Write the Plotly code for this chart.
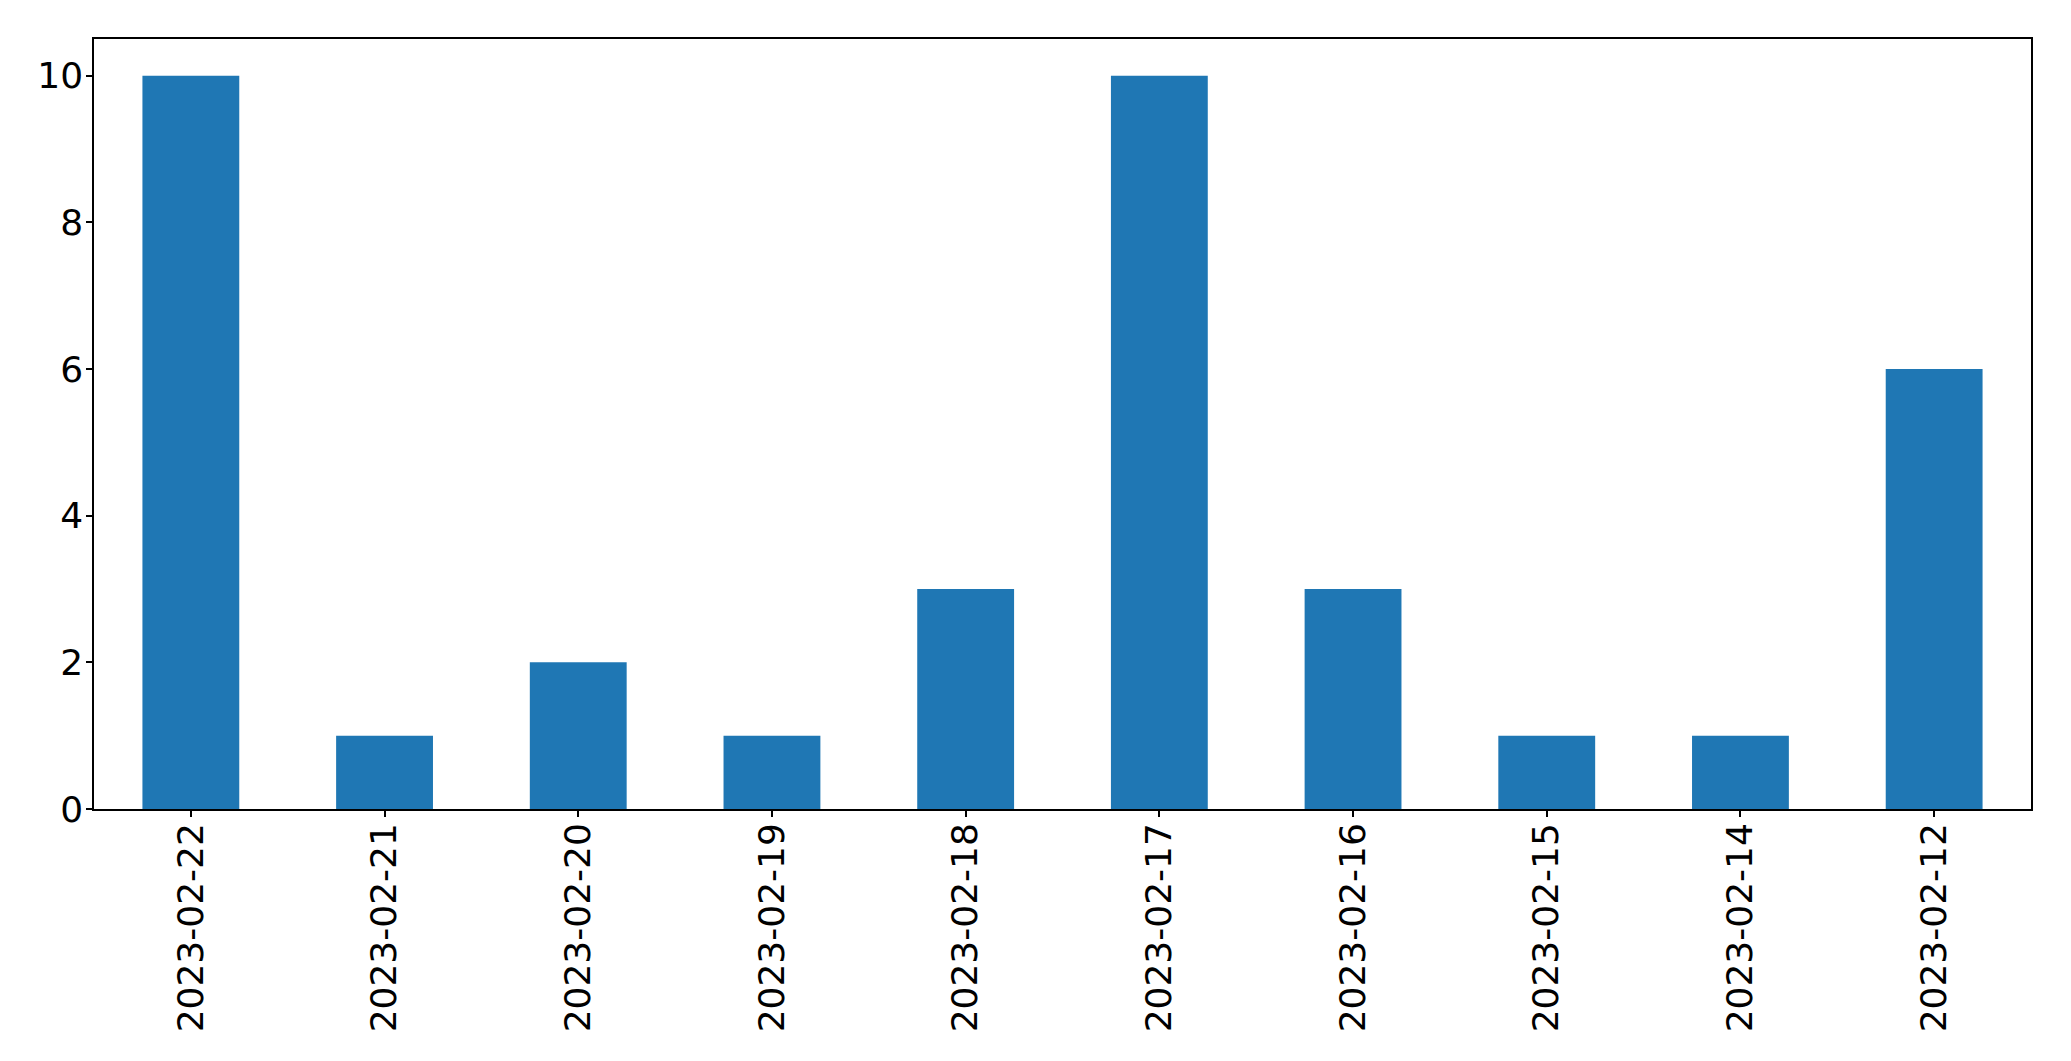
import plotly.graph_objects as go

dates = ["2023-02-22", "2023-02-21", "2023-02-20", "2023-02-19", "2023-02-18",
         "2023-02-17", "2023-02-16", "2023-02-15", "2023-02-14", "2023-02-12"]
counts = [10, 1, 2, 1, 3, 10, 3, 1, 1, 6]

fig = go.Figure(
  data=[go.Bar(
    x=dates,
    y=counts,
    width=0.5,
    marker=dict(color="#1f77b4", line=dict(width=0))
  )]
)

# page body has an 8px margin, so shrink the figure and shift margins to match
fig.update_layout(
  width=2055,
  height=1045,
  margin=dict(l=86, r=32, t=31, b=244),
  plot_bgcolor="white",
  paper_bgcolor="white",
  font=dict(family="DejaVu Sans", size=36, color="black"),
  showlegend=False
)

fig.update_xaxes(
  type="category",
  range=[-0.5, 9.5],
  tickangle=-90,
  ticks="outside",
  ticklen=6,
  tickwidth=1.5,
  tickcolor="black",
  ticklabelstandoff=-8,
  showline=True,
  linecolor="black",
  linewidth=1.5,
  mirror=True,
  showgrid=False,
  automargin=False
)

fig.update_yaxes(
  range=[0, 10.5],
  tickvals=[0, 2, 4, 6, 8, 10],
  ticks="outside",
  ticklen=6,
  tickwidth=1.5,
  tickcolor="black",
  ticklabelstandoff=-4,
  showline=True,
  linecolor="black",
  linewidth=1.5,
  mirror=True,
  showgrid=False,
  zeroline=False,
  automargin=False
)

fig.write_html("out.html")
